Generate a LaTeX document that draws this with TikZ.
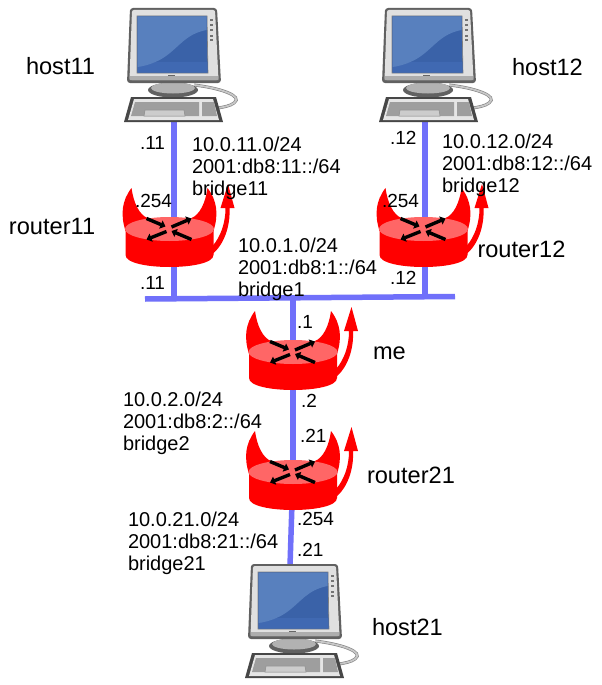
\documentclass[tikz,border=0pt]{standalone}
\usepackage{fontspec}
\setmainfont{Liberation Sans}
\usetikzlibrary{arrows.meta}
\definecolor{linkblue}{RGB}{112,112,250}
\definecolor{rred}{RGB}{255,0,0}
\definecolor{rtop}{RGB}{255,102,102}
\definecolor{scrA}{RGB}{58,98,168}
\definecolor{scrB}{RGB}{88,128,190}
\definecolor{scrC}{RGB}{64,105,178}
\tikzset{
  link/.style={draw=linkblue,line width=5.5pt},
  lbl/.style={anchor=base west,inner sep=0pt,outer sep=0pt,font=\fontsize{20}{22}\selectfont,text=black},
  ifl/.style={lbl,font=\fontsize{19}{22}\selectfont},
  nml/.style={lbl,font=\fontsize{23.6}{26}\selectfont},
  net/.style={lbl,align=left,anchor=north west},
  xarrow/.style={draw=black,line width=3.4pt,-{Triangle[length=5pt,width=8.5pt]}},
  router/.pic={
    % horns
    \fill[rred] (-38,-41) .. controls (-48,-28) and (-49,-14) .. (-44,2) -- (-18,-6) -- (-22,-11) .. controls (-30,-14) and (-36,-26) .. cycle;
    \fill[rred] (38,-41) .. controls (48,-28) and (49,-14) .. (44,2) -- (18,-6) -- (22,-11) .. controls (30,-14) and (36,-26) .. cycle;
    % body
    \fill[rred] (-44,0) -- (-44,26) .. controls (-44,42) and (44,42) .. (44,26) -- (44,0) -- cycle;
    \fill[rtop] (0,0) ellipse[x radius=44.5pt,y radius=12pt];
    % side arrow
    \fill[rred] (43,17) .. controls (51,8) and (56,-6) .. (56,-21) -- (51,-21) -- (58.5,-45) -- (65,-21) -- (60,-21) .. controls (61,-2) and (54,16) .. (43,25) -- cycle;
    % X
    \draw[xarrow] (2,-2) -- (22,-10.5);
    \draw[xarrow] (-3,2.5) -- (-23,10.5);
    \draw[xarrow] (-23,-10.5) -- (-4,-2.5);
    \draw[xarrow] (22,10.5) -- (2,2);
  },
  host/.pic={
    % cable
    \draw[black!50,line width=3pt] (20,85) .. controls (46,88) and (70,96) .. (60,103) .. controls (56,106) and (50,107) .. (44,108);
    \draw[black!22,line width=1.8pt] (20,85) .. controls (46,88) and (70,96) .. (60,103) .. controls (56,106) and (50,107) .. (44,108);
    % base
    \fill[black!62] (-1,90) ellipse[x radius=25pt,y radius=7.5pt];
    \fill[black!30] (-1,88) ellipse[x radius=22pt,y radius=5.5pt];
    % monitor
    \fill[black!62,rounded corners=3pt] (-44,8) -- (43,8) -- (47,83) -- (-47,83) -- cycle;
    \fill[black!12,rounded corners=2pt] (-42,10) -- (41,10) -- (44.5,80) -- (-44.5,80) -- cycle;
    \fill[black!32] (-44,76) -- (44,76) -- (44.5,80) -- (-44.5,80) -- cycle;
    \fill[scrA,draw=black!50,line width=.6pt] (-37,16) -- (33,16) -- (34,73) -- (-37,73) -- cycle;
    \fill[scrC] (-36.5,62) -- (33,62) -- (33.5,72.5) -- (-36.5,72.5) -- cycle;
    \fill[scrB] (-36.5,16.5) -- (32.5,16.5) -- (32.5,30) .. controls (12,34) and (6,46) .. (-8,56) .. controls (-16,62) and (-28,66) .. (-36.5,67) -- cycle;
    \foreach \yy in {19,24,29,35,39} \fill[black!55] (36,\yy) rectangle +(3,2);
    \fill[black!60] (-6,74.5) rectangle +(7,1.5);
    % keyboard
    \fill[black!72] (-43,97) -- (42,97) -- (49,122) -- (-50,122) -- cycle;
    \fill[black!10] (-40,99) -- (39,99) -- (45,120) -- (-46,120) -- cycle;
    \fill[black!38] (-39,102) -- (25,102) -- (25,116) -- (-43,116) -- cycle;
    \fill[black!38] (28,102) -- (40,102) -- (43,116) -- (28,116) -- cycle;
    \fill[black!20,draw=black!45,line width=.5pt] (-29,110) -- (10,110) -- (11,116) -- (-30,116) -- cycle;
  }
}
\begin{document}
\begin{tikzpicture}[x=1pt,y=-1pt]
\useasboundingbox (0,0) rectangle (602,685);
\fill[white] (0,0) rectangle (602,685);
% anchors
\coordinate (h11) at (174,120);
\coordinate (h12) at (425,120);
\coordinate (h21) at (290,566);
\coordinate (r11) at (169.5,229);
\coordinate (r12) at (423.5,229);
\coordinate (me) at (293,352);
\coordinate (r21) at (293,472);
\coordinate (busL) at (145,299);
\coordinate (busR) at (455,296.5);
\coordinate (t11) at (174,298.5);
\coordinate (t12) at (425,296.5);
\coordinate (t1) at (293,297.5);
% links
\draw[link] (h11) -- (t11);
\draw[link] (h12) -- (t12);
\draw[link] (busL) -- (busR);
\draw[link] (t1) -- (me);
\draw[link] (me) -- (r21);
\draw[link] (r21) -- (h21);
% devices
\pic at (174,0) {host};
\pic at (429,0) {host};
\pic at (295,556) {host};
\pic at (r11) {router};
\pic at (r12) {router};
\pic at (me) {router};
\pic at (r21) {router};
% names
\node[nml] (nh11) at (26,74.5) {host11};
\node[nml] (nh12) at (512,75) {host12};
\node[nml] (nr11) at (9,234) {router11};
\node[nml] (nr12) at (477.5,257) {router12};
\node[nml] (nme) at (373,359) {me};
\node[nml] (nr21) at (367,483) {router21};
\node[nml] (nh21) at (372,635) {host21};
% interface labels
\node[ifl] (a1) at (140,149) {.11};
\node[ifl] (a2) at (390,144) {.12};
\node[ifl] (a3) at (135,207) {.254};
\node[ifl] (a4) at (382,207) {.254};
\node[ifl] (a5) at (140,289) {.11};
\node[ifl] (a6) at (390,284) {.12};
\node[ifl] (a7) at (297,328) {.1};
\node[ifl] (a8) at (301,407) {.2};
\node[ifl] (a9) at (300,442) {.21};
\node[ifl] (a10) at (297,525) {.254};
\node[ifl] (a11) at (297,556) {.21};
% networks
\node[net] (n11) at (192,137) {10.0.11.0/24\\2001:db8:11::/64\\bridge11};
\node[net] (n12) at (442,134) {10.0.12.0/24\\2001:db8:12::/64\\bridge12};
\node[net] (n1) at (238,238) {10.0.1.0/24\\2001:db8:1::/64\\bridge1};
\node[net] (n2) at (123,392) {10.0.2.0/24\\2001:db8:2::/64\\bridge2};
\node[net] (n21) at (128,512) {10.0.21.0/24\\2001:db8:21::/64\\bridge21};
\end{tikzpicture}
\end{document}
